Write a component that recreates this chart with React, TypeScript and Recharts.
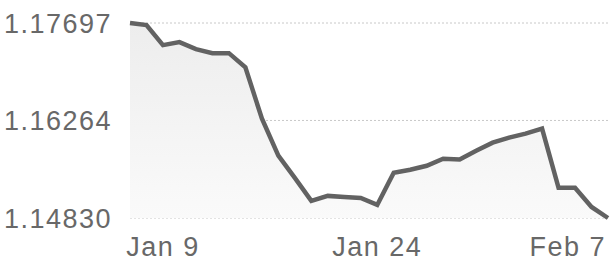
import { ComposedChart, Area, XAxis, YAxis, CartesianGrid } from "recharts";

const dates = [
    "Jan 7", "Jan 8", "Jan 9", "Jan 10", "Jan 12", "Jan 13", "Jan 14", "Jan 15",
    "Jan 16", "Jan 17", "Jan 19", "Jan 20", "Jan 21", "Jan 22", "Jan 23", "Jan 24",
    "Jan 26", "Jan 27", "Jan 28", "Jan 29", "Jan 30", "Jan 31", "Feb 2", "Feb 3",
    "Feb 4", "Feb 5", "Feb 6", "Feb 7", "Feb 9", "Feb 10",
];

const rates = [
    1.17697, 1.17667, 1.17372, 1.17416, 1.17313, 1.17254, 1.17254, 1.17047,
    1.16293, 1.15746, 1.15421, 1.15081, 1.15155, 1.1514, 1.15125, 1.15022,
    1.15495, 1.15539, 1.15598, 1.15702, 1.15691, 1.1582, 1.15938, 1.16012,
    1.16071, 1.16145, 1.15273, 1.15273, 1.14992, 1.1483,
];

const xTickLabels = ["Jan 9", "Jan 24", "Feb 7"];
const yTicks = [1.1483, 1.16264, 1.17697];

const data = dates.map((d, i) => ({ date: d, rate: rates[i] }));

const FONT = "'Liberation Sans', Arial, sans-serif";
const TEXT = "#686868";
const CHART_W = 610;

// only some dates get a label; keep the last one inside the chart
/* eslint-disable @typescript-eslint/no-explicit-any */
const DateTick = ({ x, y, payload }: any) => {
    if (!xTickLabels.includes(payload.value)) return null;
    const half = 38;
    const clamp = x + half > CHART_W - 4;
    return (
        <text
            x={clamp ? CHART_W - 4 : x}
            y={y}
            dy="0.71em"
            textAnchor={clamp ? "end" : "middle"}
            fill={TEXT}
            fontSize={27}
            letterSpacing={1.5}
            fontFamily={FONT}
        >
            {payload.value}
        </text>
    );
};

export default function App() {
    return (
        <div style={{ position: "absolute", left: 0, top: 0, background: "#fff" }}>
            <ComposedChart
                width={CHART_W}
                height={264}
                data={data}
                margin={{ top: 23, right: 2, left: 0, bottom: 0 }}
            >
                <defs>
                    <linearGradient id="fillGrad" x1="0" y1="0" x2="0" y2="1">
                        <stop offset="0%" stopColor="#ededed" stopOpacity={1} />
                        <stop offset="100%" stopColor="#fafafa" stopOpacity={1} />
                    </linearGradient>
                </defs>
                <CartesianGrid
                    vertical={false}
                    stroke="#c8c8c8"
                    strokeDasharray="2 2"
                />
                <XAxis
                    dataKey="date"
                    interval={0}
                    tick={<DateTick />}
                    tickLine={false}
                    axisLine={false}
                    tickMargin={13}
                    height={46}
                />
                <YAxis
                    domain={[1.1483, 1.17697]}
                    ticks={yTicks}
                    tickFormatter={(v: number) => v.toFixed(5)}
                    tickLine={false}
                    axisLine={false}
                    tickMargin={12}
                    width={130}
                    tick={{ fill: TEXT, fontSize: 27, fontFamily: FONT, letterSpacing: 1.5 }}
                />
                <Area
                    type="linear"
                    dataKey="rate"
                    stroke="#626262"
                    strokeWidth={4.5}
                    fill="url(#fillGrad)"
                    fillOpacity={1}
                    dot={false}
                    activeDot={false}
                    isAnimationActive={false}
                />
            </ComposedChart>
        </div>
    );
}
